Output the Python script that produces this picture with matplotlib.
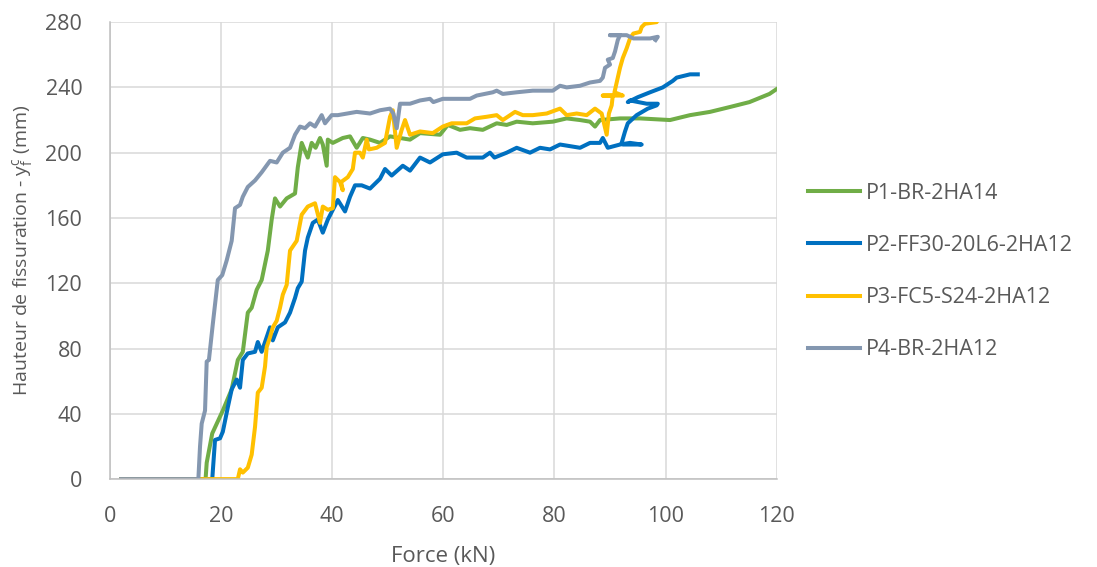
import matplotlib.pyplot as plt

# data (Force kN, crack height mm)
p1_x = [2, 17.2, 17.4, 18.4, 20.3, 21.9, 23.0, 23.9, 24.8, 25.5, 26.4, 27.3, 28.4, 29.1, 29.7,
        30.6, 31.8, 33.3, 33.8, 34.5, 35.6, 36.3, 37.0, 37.8, 38.3, 39.0, 39.2, 40.1, 41.9,
        43.2, 44.4, 45.5, 46.8, 48.6, 50.4, 54.0, 55.8, 59.4, 60.8, 63.0, 64.8, 67.1, 69.6,
        71.4, 73.2, 76.1, 79.7, 82.2, 84.6, 86.4, 87.3, 88.2, 91.8, 95.4, 100.8, 104.4, 108.0,
        111.6, 115.1, 118.7, 120.0]
p1_y = [0, 0, 10, 28, 42, 55, 73, 78, 102, 105, 116, 122, 140, 159, 172,
        167, 172, 175, 191, 206, 197, 206, 203, 209, 205, 192, 208, 206, 209,
        210, 203, 209, 208, 206, 210, 208, 212, 211, 217, 214, 215, 214, 218,
        217, 219, 218, 219, 221, 220, 219, 216, 220, 221, 221, 220, 223, 225,
        228, 231, 236, 239]

p2_x = [2, 18.4, 18.9, 19.8, 20.3, 21.2, 21.9, 22.8, 23.4, 23.9, 24.8, 26.1, 26.6, 27.3, 28.2,
        28.8, 29.3, 30.2, 31.5, 32.4, 33.3, 33.8, 34.5, 35.1, 35.6, 36.5, 37.4, 38.3, 39.2,
        40.1, 41.0, 42.3, 43.2, 44.1, 45.3, 46.8, 48.6, 49.5, 50.7, 52.7, 54.0, 55.8, 57.6,
        59.9, 62.4, 64.2, 67.1, 68.4, 69.2, 71.4, 73.2, 75.6, 77.4, 79.2, 81.0, 82.8, 84.6,
        86.4, 88.2, 88.7, 89.6, 91.8, 93.6, 95.7, 92.4, 92.1, 92.7, 93.2, 94.8, 96.8, 98.4,
        98.6, 96.6, 93.6, 93.2, 95.0, 97.2, 99.5, 101.3, 102.0, 104.4, 105.8]
p2_y = [0, 0, 24, 25, 29, 44, 55, 61, 56, 73, 77, 78, 84, 78, 87,
        93, 85, 93, 96, 102, 111, 117, 121, 140, 148, 157, 159, 151, 159,
        165, 171, 164, 173, 180, 180, 178, 184, 190, 186, 192, 189, 197, 194,
        199, 200, 197, 197, 200, 197, 200, 203, 200, 203, 202, 205, 204, 203,
        206, 206, 209, 203, 205, 206, 205, 205, 206, 213, 218, 223, 227, 229,
        230, 230, 232, 231, 234, 237, 240, 244, 246, 248, 248]

p3_x = [2, 23.0, 23.4, 23.9, 24.8, 25.5, 26.1, 26.6, 27.3, 27.9, 28.2, 28.8, 29.3, 30.0, 30.6,
        31.1, 31.8, 32.4, 33.6, 34.5, 35.6, 36.9, 37.8, 38.3, 39.2, 40.1, 40.5, 41.4, 41.9,
        41.6, 42.8, 43.7, 44.1, 45.0, 45.5, 46.2, 46.6, 48.0, 49.5, 50.4, 50.9, 51.6, 52.5,
        53.1, 54.0, 55.8, 58.1, 59.9, 61.5, 64.2, 65.7, 67.8, 69.6, 70.7, 72.9, 74.3, 76.1,
        78.6, 81.0, 82.2, 84.0, 85.8, 87.3, 88.5, 89.4, 89.8, 90.3, 90.5, 88.7, 92.3, 90.8,
        91.2, 91.8, 92.3, 93.0, 93.6, 94.2, 95.4, 95.7, 96.3, 98.4, 99.0]
p3_y = [0, 0, 6, 4, 7, 15, 32, 53, 56, 69, 81, 87, 93, 97, 105,
        113, 119, 140, 146, 162, 167, 169, 157, 167, 165, 166, 185, 182, 177,
        182, 185, 190, 200, 200, 197, 208, 202, 203, 206, 222, 226, 203, 214,
        220, 211, 213, 212, 216, 218, 218, 221, 222, 223, 220, 225, 223, 223,
        224, 227, 223, 224, 223, 227, 224, 211, 224, 229, 235, 235, 235, 237,
        243, 252, 258, 264, 270, 273, 274, 277, 279, 280, 285]

p4_x = [2, 15.9, 16.2, 16.5, 17.1, 17.4, 17.8, 18.5, 19.4, 20.2, 21.0, 21.9, 22.5, 23.4, 23.9,
        24.8, 26.1, 27.3, 28.8, 30.0, 31.1, 32.4, 33.3, 34.2, 35.1, 36.0, 36.9, 38.1, 38.7,
        39.9, 41.0, 44.4, 46.8, 48.6, 50.4, 51.0, 51.6, 52.2, 54.0, 55.8, 57.6, 58.2, 59.9,
        63.0, 64.8, 66.0, 68.9, 69.6, 70.7, 73.2, 76.1, 79.7, 81.0, 82.2, 84.6, 86.4, 88.2,
        88.7, 89.1, 90.0, 89.6, 90.5, 90.9, 91.4, 91.8, 90.0, 93.0, 94.2, 97.2, 98.6, 98.2]
p4_y = [0, 0, 20, 34, 42, 72, 73, 95, 122, 125, 134, 146, 166, 168, 173,
        179, 183, 188, 195, 194, 200, 203, 211, 216, 215, 218, 216, 223, 218,
        223, 223, 225, 224, 226, 227, 224, 215, 230, 230, 232, 233, 231, 233,
        233, 233, 235, 237, 238, 236, 237, 238, 238, 241, 240, 241, 243, 244,
        246, 252, 254, 257, 258, 262, 269, 272, 272, 272, 270, 270, 271, 269]

names = ["P1-BR-2HA14", "P2-FF30-20L6-2HA12", "P3-FC5-S24-2HA12", "P4-BR-2HA12"]
colors = ["#70AD47", "#0070C0", "#FFC000", "#8497B0"]

plt.rcParams['font.family'] = ['Open Sans', 'DejaVu Sans']
txt = "#595959"

fig = plt.figure(figsize=(10.97, 5.67), dpi=100)
ax = fig.add_axes([0.1003, 0.155, 0.6077, 0.806])

for xs, ys, name, c in zip([p1_x, p2_x, p3_x, p4_x], [p1_y, p2_y, p3_y, p4_y], names, colors):
    ax.plot(xs, ys, color=c, lw=2.9, label=name, solid_joinstyle='round')

ax.set_xlim(0, 120)
ax.set_ylim(0, 280)
ax.set_xticks(range(0, 121, 20))
ax.set_yticks(range(0, 281, 40))
ax.grid(color="#D9D9D9", lw=1.1)
ax.set_axisbelow(True)
for s in ["top", "right"]:
    ax.spines[s].set_visible(False)
for s in ["left", "bottom"]:
    ax.spines[s].set_color("#BFBFBF")
    ax.spines[s].set_linewidth(1.1)
ax.tick_params(length=0, labelsize=15.5, labelcolor=txt)
ax.tick_params(axis='y', pad=20)
ax.tick_params(axis='x', pad=19)

ax.set_xlabel("Force (kN)", fontsize=16, color=txt, labelpad=14)
ax.set_ylabel(r"Hauteur de fissuration - $\mathregular{y_f^c}$ (mm)", fontsize=14, color=txt, labelpad=7)

fig.legend(loc="center left", bbox_to_anchor=(0.719, 0.521), frameon=False, fontsize=15.5,
           labelcolor=txt, handlelength=2.4, labelspacing=1.45, handletextpad=0.3)

fig.savefig("out.png", dpi=100)
